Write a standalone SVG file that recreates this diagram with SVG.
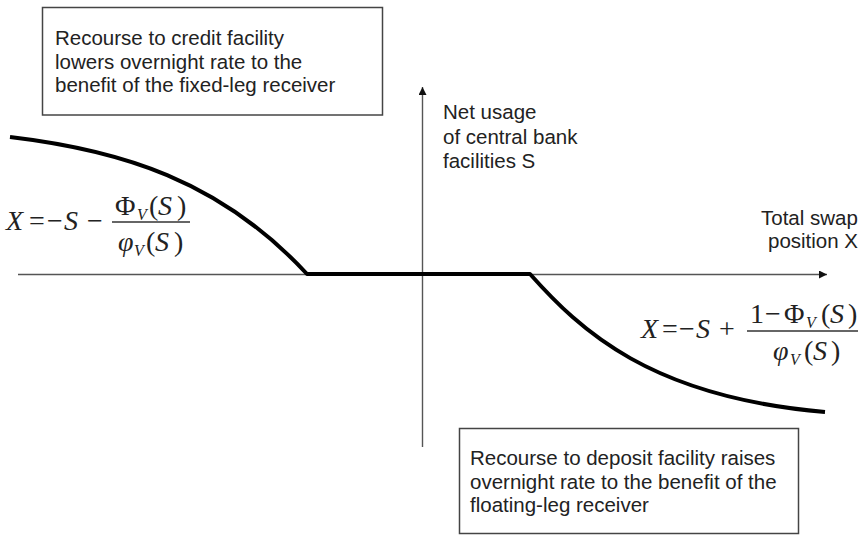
<svg xmlns="http://www.w3.org/2000/svg" width="864" height="535" viewBox="0 0 864 535">
<style>
.box{fill:#fff;stroke:#444;stroke-width:1.5}
.lbl{font-family:"Liberation Sans",Arial,sans-serif;font-size:20.5px;fill:#222}
.axis{stroke:#555;stroke-width:1.4;fill:none}
.curve{stroke:#000;stroke-width:4;fill:none;stroke-linejoin:round}
.m{font-family:"Liberation Serif","Times New Roman",serif;font-size:28px;fill:#222}
.i{font-style:italic}
.sub{font-family:"Liberation Serif","Times New Roman",serif;font-size:16px;font-style:italic;fill:#222}
.bar{stroke:#333;stroke-width:1.3}
</style>
<defs>
<marker id="ah" viewBox="0 0 10 10" refX="10" refY="5" markerWidth="8" markerHeight="8" markerUnits="userSpaceOnUse" orient="auto">
<path d="M0,0 L10,5 L0,10 Z" fill="#111"/>
</marker>
</defs>
<rect width="864" height="535" fill="#fff"/>
<g id="connectors">
<line class="axis" x1="18" y1="274.5" x2="827" y2="274.5" marker-end="url(#ah)"/>
<line class="axis" x1="422.5" y1="447" x2="422.5" y2="87" marker-end="url(#ah)"/>
<path class="curve" d="M10,137 C120,150 220,180 307,274 L530,274 C580,330 650,397 825,412"/>
</g>
<g id="box-credit">
<rect class="box" x="42.5" y="7.5" width="340" height="107.5"/>
<text class="lbl" x="55" y="45">Recourse to credit facility</text>
<text class="lbl" x="55" y="68.5">lowers overnight rate to the</text>
<text class="lbl" x="55" y="92.3">benefit of the fixed-leg receiver</text>
</g>
<g id="box-deposit">
<rect class="box" x="459.5" y="428.5" width="339" height="105"/>
<text class="lbl" x="470" y="465">Recourse to deposit facility raises</text>
<text class="lbl" x="470" y="488.5">overnight rate to the benefit of the</text>
<text class="lbl" x="470" y="512">floating-leg receiver</text>
</g>
<g id="label-y">
<text class="lbl" x="443" y="119">Net usage</text>
<text class="lbl" x="443" y="143.5">of central bank</text>
<text class="lbl" x="443" y="168">facilities S</text>
</g>
<g id="label-x">
<text class="lbl" x="761" y="225">Total swap</text>
<text class="lbl" x="768" y="248">position X</text>
</g>
<g id="formula-left">
<text class="m" y="230"><tspan x="6" class="i">X</tspan><tspan x="29">=</tspan><tspan x="47">−</tspan><tspan x="64" class="i">S</tspan><tspan x="87">−</tspan></text>
<line class="bar" x1="112" y1="222" x2="190" y2="222"/>
<text class="m" y="215"><tspan x="115">Φ</tspan><tspan x="149">(</tspan><tspan x="158" class="i">S</tspan><tspan x="177">)</tspan></text>
<text class="sub" x="137" y="220">V</text>
<text class="m" y="251"><tspan x="118" class="i">φ</tspan><tspan x="146">(</tspan><tspan x="155" class="i">S</tspan><tspan x="174">)</tspan></text>
<text class="sub" x="134" y="256">V</text>
</g>
<g id="formula-right">
<text class="m" y="338"><tspan x="641" class="i">X</tspan><tspan x="662">=</tspan><tspan x="679">−</tspan><tspan x="696" class="i">S</tspan><tspan x="719">+</tspan></text>
<line class="bar" x1="747" y1="331" x2="858" y2="331"/>
<text class="m" y="323"><tspan x="750">1</tspan><tspan x="765">−</tspan><tspan x="784">Φ</tspan><tspan x="821">(</tspan><tspan x="830" class="i">S</tspan><tspan x="848">)</tspan></text>
<text class="sub" x="806" y="328">V</text>
<text class="m" y="360"><tspan x="773" class="i">φ</tspan><tspan x="804">(</tspan><tspan x="813" class="i">S</tspan><tspan x="831">)</tspan></text>
<text class="sub" x="790" y="365">V</text>
</g>
</svg>
